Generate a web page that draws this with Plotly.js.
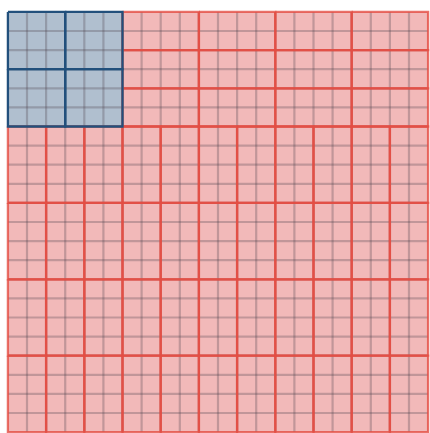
<!DOCTYPE html>
<html>
<head>
<meta charset="utf-8">
<script src="https://cdn.plot.ly/plotly-3.0.1.min.js"></script>
<style>html,body{margin:0;padding:0;background:#fff;}#chart{width:430px;height:433px;}</style>
</head>
<body>
<div id="chart"></div>
<script>
// Data: two groups of blocks in a waffle-like grid
const categories = ['Blue', 'Red'];
const blockCounts = [4, 56];
const cellsPerBlock = [9, 8];

// total cells -> square grid size
const totalCells = blockCounts[0] * cellsPerBlock[0] + blockCounts[1] * cellsPerBlock[1];
const N = Math.round(Math.sqrt(totalCells)); // 22

// Layout of blocks (computed)
const blueSide = Math.round(Math.sqrt(cellsPerBlock[0])); // 3
const blueAcross = Math.round(Math.sqrt(blockCounts[0])); // 2
const canton = blueSide * blueAcross; // 6

function blocksFor() {
  const blue = [], red = [];
  for (let i = 0; i < blockCounts[0]; i++) {
    const c = i % blueAcross, r = Math.floor(i / blueAcross);
    blue.push([c * blueSide, r * blueSide, blueSide, blueSide]);
  }
  let remaining = blockCounts[1];
  const tw = 4, th = cellsPerBlock[1] / 4;
  for (let r = 0; r < canton && remaining > 0; r += th) {
    for (let c = canton; c < N && remaining > 0; c += tw) {
      red.push([c, r, tw, th]); remaining--;
    }
  }
  const bw = 2, bh = cellsPerBlock[1] / 2;
  for (let r = canton; r < N && remaining > 0; r += bh) {
    for (let c = 0; c < N && remaining > 0; c += bw) {
      red.push([c, r, bw, bh]); remaining--;
    }
  }
  return {blue, red};
}
const blocks = blocksFor();

function polyXY(list) {
  const x = [], y = [];
  list.forEach(([c, r, w, h]) => {
    x.push(c, c + w, c + w, c, c, null);
    y.push(r, r, r + h, r + h, r, null);
  });
  return {x, y};
}

function fillTrace(list, fill) {
  const p = polyXY(list);
  return {x: p.x, y: p.y, type: 'scatter', mode: 'lines', fill: 'toself',
    fillcolor: fill, line: {width: 0, color: fill}, hoverinfo: 'skip', showlegend: false};
}
function borderTrace(list, color, name) {
  const p = polyXY(list);
  return {x: p.x, y: p.y, type: 'scatter', mode: 'lines', name: name,
    line: {width: 2.3, color: color}, hoverinfo: 'name', showlegend: false};
}

// cell grid lines
const gx = [], gy = [];
for (let i = 1; i < N; i++) {
  gx.push(i, i, null); gy.push(0, N, null);
  gx.push(0, N, null); gy.push(i, i, null);
}
const gridTrace = {x: gx, y: gy, type: 'scatter', mode: 'lines',
  line: {width: 2.2, color: 'rgba(80,70,80,0.3)'}, hoverinfo: 'skip', showlegend: false};

const data = [
  fillTrace(blocks.red, '#f2b9b9'),
  fillTrace(blocks.blue, '#b0bfcf'),
  gridTrace,
  borderTrace(blocks.red, 'rgba(228,78,68,0.8)', categories[1]),
  borderTrace(blocks.blue, '#22507c', categories[0])
];

const layout = {
  width: 430, height: 433,
  margin: {l: 6, r: 0, t: 10, b: 0, pad: 0},
  paper_bgcolor: '#fff', plot_bgcolor: '#fff',
  xaxis: {range: [-0.1, N + 0.1], showgrid: false, zeroline: false, showticklabels: false, ticks: '', showline: false, fixedrange: true},
  yaxis: {range: [-0.1 + 423 / (424 / (N + 0.2)), -0.1], showgrid: false, zeroline: false, showticklabels: false, ticks: '', showline: false, fixedrange: true},
  showlegend: false
};

Plotly.newPlot('chart', data, layout, {displayModeBar: false, staticPlot: true});
</script>
</body>
</html>
